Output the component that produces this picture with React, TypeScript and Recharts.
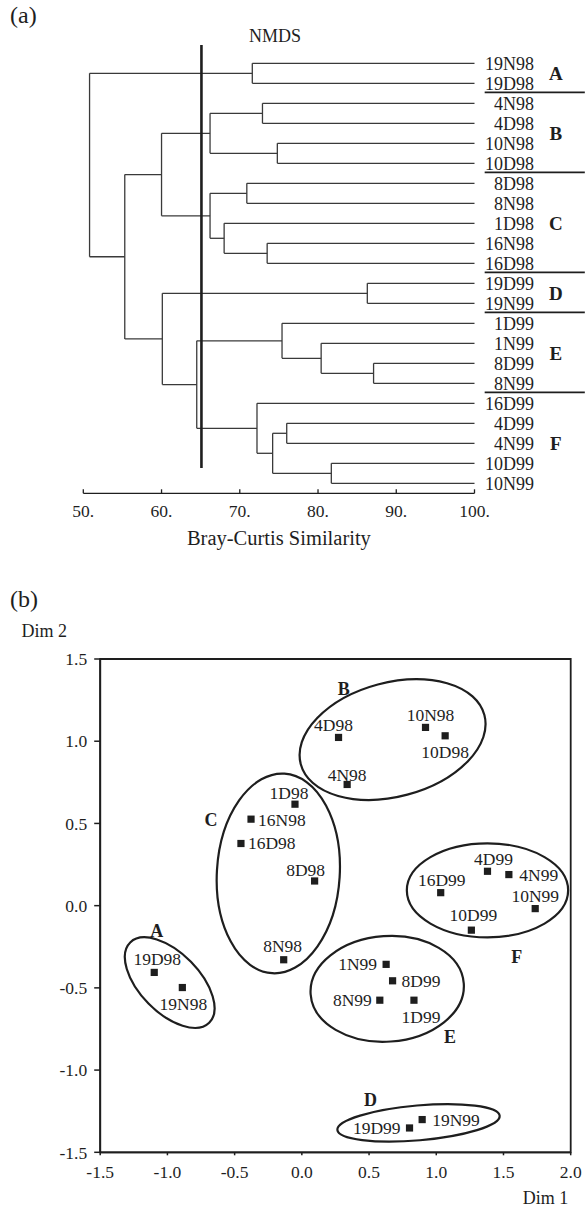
import React from 'react';
import {
  ScatterChart,
  Scatter,
  XAxis,
  YAxis,
  ReferenceLine,
  ReferenceArea,
  ReferenceDot,
} from 'recharts';

// ---------------- (a) dendrogram data ----------------
const leafNames = [
  '19N98', '19D98', '4N98', '4D98', '10N98', '10D98', '8D98', '8N98', '1D98', '16N98', '16D98',
  '19D99', '19N99', '1D99', '1N99', '8D99', '8N99', '16D99', '4D99', '4N99', '10D99', '10N99',
];
// merge i joins mergeLeft[i] and mergeRight[i] at similarity mergeSim[i]; "m<k>" refers to merge k
const mergeLeft = [
  '19N98', '4N98', '10N98', 'm1', '8D98', '16N98', '1D98', 'm4', 'm3', '19D99', '8D99',
  '1N99', '1D99', '4D99', '10D99', 'm13', '16D99', 'm12', 'm9', 'm8', 'm0',
];
const mergeRight = [
  '19D98', '4D98', '10D98', 'm2', '8N98', '16D98', 'm5', 'm6', 'm7', '19N99', '8N99',
  'm10', 'm11', '4N99', '10N99', 'm14', 'm15', 'm16', 'm17', 'm18', 'm19',
];
const mergeSim = [
  71.6, 72.9, 74.8, 66.2, 70.9, 73.5, 68.0, 66.2, 60.0, 86.3, 87.1,
  80.4, 75.4, 76.0, 81.7, 74.2, 72.2, 64.5, 60.1, 55.3, 50.8,
];
const simTicks = [50, 60, 70, 80, 90, 100];
const nmdsCut = 65.1;
const clusterLetters = ['A', 'B', 'C', 'D', 'E', 'F'];
const clusterFirstLeaf = [0, 2, 6, 11, 13, 17];
const clusterLastLeaf = [1, 5, 10, 12, 16, 21];

// ---------------- (b) NMDS data ----------------
const siteNames = [
  '19D98', '19N98', '4D98', '4N98', '10N98', '10D98', '1D98', '16N98', '16D98', '8D98', '8N98',
  '16D99', '4D99', '4N99', '10N99', '10D99', '1N99', '8D99', '8N99', '1D99', '19D99', '19N99',
];
const dim1 = [
  -1.098, -0.889, 0.273, 0.337, 0.92, 1.066, -0.051, -0.378, -0.453, 0.095, -0.135,
  1.033, 1.381, 1.54, 1.736, 1.261, 0.627, 0.675, 0.58, 0.834, 0.801, 0.895,
];
const dim2 = [
  -0.406, -0.498, 1.023, 0.737, 1.084, 1.033, 0.617, 0.526, 0.378, 0.15, -0.329,
  0.079, 0.209, 0.189, -0.018, -0.149, -0.357, -0.457, -0.575, -0.575, -1.352, -1.301,
];
const dimTicksX = [-1.5, -1.0, -0.5, 0.0, 0.5, 1.0, 1.5, 2.0];
const dimTicksY = [1.5, 1.0, 0.5, 0.0, -0.5, -1.0, -1.5];

// group ellipses (centre and semi-axes in data units, rotation in degrees)
const ellipseGroup = ['A', 'B', 'C', 'D', 'E', 'F'];
const ellipseCx = [-0.983, 0.675, -0.175, 0.868, 0.635, 1.381];
const ellipseCy = [-0.468, 1.01, 0.196, -1.321, -0.506, 0.093];
const ellipseRx = [0.419, 0.707, 0.457, 0.606, 0.571, 0.6];
const ellipseRy = [0.181, 0.347, 0.608, 0.106, 0.321, 0.286];
const ellipseAngle = [45.5, -15, 3.5, -5, -4, 0];
const groupLabelX = [-1.08, 0.312, -0.675, 0.51, 1.102, 1.598];
const groupLabelY = [-0.153, 1.318, 0.521, -1.178, -0.797, -0.311];

// label placement for the site labels: [side, dx, dy]
const labelPlacement: Record<string, [string, number, number]> = {
  '4D98': ['top', -5, 0],
  '10N98': ['top', 5, 0],
  '10D98': ['bottom', 0, 0],
  '4N98': ['top', 0, 3],
  '1D98': ['top', -6, 1],
  '16N98': ['right', -2, 1],
  '16D98': ['right', -2, 0],
  '8D98': ['top', -9, 1],
  '4D99': ['top', 6, 0],
  '4N99': ['right', 1.5, 0],
  '16D99': ['top', 1, -1],
  '10N99': ['top', 0, -0.6],
  '10D99': ['top', 2, -2.7],
  '8N98': ['top', -1, -1.6],
  '19D98': ['top', 3, -1],
  '19N98': ['bottom', 1, 0],
  '1N99': ['left', 0, 0],
  '8D99': ['right', 0, 0],
  '8N99': ['left', 1, 0],
  '1D99': ['bottom', 7, 1],
  '19N99': ['right', 1, 0],
  '19D99': ['left', 0, 0],
};

const FONT = '"Liberation Serif", "Times New Roman", Times, serif';
const INK = '#1e1e1e';
const TREE = '#3a3a3a';

// ---------- derived tables ----------
type Pt = { x: number; y: number };
const nodePos: Record<string, Pt> = {};
leafNames.forEach((n, i) => {
  nodePos[n] = { x: 100, y: i };
});
const treeSegments: [Pt, Pt][] = [];
mergeSim.forEach((s, i) => {
  const a = nodePos[mergeLeft[i]];
  const b = nodePos[mergeRight[i]];
  treeSegments.push([{ x: s, y: a.y }, { x: s, y: b.y }]);
  treeSegments.push([{ x: s, y: a.y }, { x: a.x, y: a.y }]);
  treeSegments.push([{ x: s, y: b.y }, { x: b.x, y: b.y }]);
  nodePos['m' + i] = { x: s, y: (a.y + b.y) / 2 };
});
const leafData = leafNames.map((n, i) => ({ x: 100, y: i, name: n }));
const separatorY = clusterLastLeaf.slice(0, -1).map((l) => l + 0.45);
const letterData = clusterLetters.map((c, i) => ({
  name: c,
  y: (clusterFirstLeaf[i] + clusterLastLeaf[i]) / 2,
}));

const siteData = siteNames.map((n, i) => ({ x: dim1[i], y: dim2[i], name: n }));
const groupData = ellipseGroup.map((g, i) => ({ x: groupLabelX[i], y: groupLabelY[i], name: g }));

// ---------- shapes ----------
const LeafLabel = (props: any) => {
  const { cx, cy, payload } = props;
  return (
    <text x={cx + 59.5} y={cy} dy="0.35em" textAnchor="end" fontFamily={FONT} fontSize={18} fill={INK}>
      {payload.name}
    </text>
  );
};

const SitePoint = (props: any) => {
  const { cx, cy, payload } = props;
  const [side, dx, dy] = labelPlacement[payload.name] ?? ['top', 0, 0];
  let tx = cx + dx;
  let ty = cy + dy;
  let anchor: 'middle' | 'start' | 'end' = 'middle';
  if (side === 'top') ty += -6;
  else if (side === 'bottom') ty += 22;
  else if (side === 'right') {
    tx += 9;
    ty += 6;
    anchor = 'start';
  } else {
    tx -= 9;
    ty += 6;
    anchor = 'end';
  }
  return (
    <g>
      <rect x={cx - 3.6} y={cy - 3.6} width={7.2} height={7.2} fill={INK} />
      <text x={tx} y={ty} textAnchor={anchor} fontFamily={FONT} fontSize={17.5} fill={INK}>
        {payload.name}
      </text>
    </g>
  );
};

const GroupLetter = (props: any) => {
  const { cx, cy, payload } = props;
  return (
    <text x={cx} y={cy} dy="0.35em" textAnchor="middle" fontFamily={FONT} fontWeight="bold" fontSize={18} fill={INK}>
      {payload.name}
    </text>
  );
};

const makeEllipse = (angle: number) => (props: any) => {
  const { x, y, width, height } = props;
  const cx = x + width / 2;
  const cy = y + height / 2;
  return (
    <ellipse
      cx={cx}
      cy={cy}
      rx={Math.abs(width) / 2}
      ry={Math.abs(height) / 2}
      transform={`rotate(${angle} ${cx} ${cy})`}
      fill="none"
      stroke={INK}
      strokeWidth={2.2}
    />
  );
};

const makeLetter = (label: string) => (p: any) => (
  <text x={p.cx} y={p.cy} dy="0.35em" textAnchor="middle" fontFamily={FONT} fontWeight="bold" fontSize={19} fill={INK}>
    {label}
  </text>
);

const tickStyle = { fill: INK, fontSize: 17.5, fontFamily: FONT };

export default function App() {
  return (
    <div style={{ position: 'absolute', left: 0, top: 0, width: 588, height: 1206, background: '#fff' }}>
      {/* (a) dendrogram */}
      <div style={{ position: 'absolute', left: 0, top: 0 }}>
        <ScatterChart width={588} height={560} margin={{ top: 53.3, right: 113.5, bottom: 14.7, left: 83.3 }}>
          <XAxis
            type="number"
            dataKey="x"
            domain={[50, 100]}
            ticks={simTicks}
            tickFormatter={(v: number) => `${v}.`}
            height={52}
            tickSize={-4}
            tickMargin={15}
            axisLine={{ stroke: INK, strokeWidth: 1.3 }}
            tickLine={{ stroke: INK, strokeWidth: 1.3 }}
            tick={tickStyle}
            label={{
              value: 'Bray-Curtis Similarity',
              position: 'insideBottom',
              offset: 0,
              fill: INK,
              fontSize: 20.5,
              fontFamily: FONT,
            }}
          />
          <YAxis type="number" dataKey="y" domain={[-0.5, 21.5]} reversed hide width={0} />
          {treeSegments.map((seg, i) => (
            <ReferenceLine key={'t' + i} segment={seg} stroke={TREE} strokeWidth={1.3} ifOverflow="visible" />
          ))}
          <ReferenceLine
            segment={[
              { x: nmdsCut, y: -0.92 },
              { x: nmdsCut, y: 20.24 },
            ]}
            stroke={INK}
            strokeWidth={2.6}
            ifOverflow="visible"
          />
          {separatorY.map((y, i) => (
            <ReferenceLine
              key={'s' + i}
              segment={[
                { x: 101.3, y },
                { x: 114.1, y },
              ]}
              stroke={INK}
              strokeWidth={1.8}
              ifOverflow="visible"
            />
          ))}
          {letterData.map((d) => (
            <ReferenceDot key={d.name} x={110.4} y={d.y} r={0} ifOverflow="visible" shape={makeLetter(d.name)} />
          ))}
          <Scatter data={leafData} shape={LeafLabel} isAnimationActive={false} />
        </ScatterChart>
      </div>

      {/* (b) NMDS */}
      <div style={{ position: 'absolute', left: 0, top: 560 }}>
        <ScatterChart width={588} height={646} margin={{ top: 99, right: 17.3, bottom: 0, left: 40.2 }}>
          <XAxis
            type="number"
            dataKey="x"
            domain={[-1.5, 2]}
            ticks={dimTicksX}
            tickFormatter={(v: number) => v.toFixed(1)}
            height={53.7}
            tickSize={3}
            tickMargin={10}
            axisLine={{ stroke: INK, strokeWidth: 1.8 }}
            tickLine={{ stroke: INK, strokeWidth: 1.5 }}
            tick={tickStyle}
            label={{ value: 'Dim 1', position: 'insideBottomRight', offset: 2.5, fill: INK, fontSize: 18, fontFamily: FONT }}
          />
          <YAxis
            type="number"
            dataKey="y"
            domain={[-1.5, 1.5]}
            ticks={dimTicksY}
            tickFormatter={(v: number) => v.toFixed(1)}
            width={60}
            tickSize={6}
            tickMargin={7}
            axisLine={{ stroke: INK, strokeWidth: 1.8 }}
            tickLine={{ stroke: INK, strokeWidth: 1.5 }}
            tick={tickStyle}
          />
          <ReferenceArea x1={-1.5} x2={2} y1={-1.5} y2={1.5} fill="none" fillOpacity={0} stroke={INK} strokeWidth={1.8} ifOverflow="visible" />
          {ellipseGroup.map((g, i) => (
            <ReferenceArea
              key={'e' + g}
              x1={ellipseCx[i] - ellipseRx[i]}
              x2={ellipseCx[i] + ellipseRx[i]}
              y1={ellipseCy[i] - ellipseRy[i]}
              y2={ellipseCy[i] + ellipseRy[i]}
              ifOverflow="visible"
              shape={makeEllipse(ellipseAngle[i])}
            />
          ))}
          <Scatter data={siteData} shape={SitePoint} isAnimationActive={false} />
          <Scatter data={groupData} shape={GroupLetter} isAnimationActive={false} />
        </ScatterChart>
      </div>

      {/* panel captions */}
      <svg width={588} height={1206} style={{ position: 'absolute', left: 0, top: 0, pointerEvents: 'none' }}>
        <text x={10} y={23} fontFamily={FONT} fontSize={24} fill={INK}>(a)</text>
        <text x={275} y={41.7} textAnchor="middle" fontFamily={FONT} fontSize={18} fill={INK}>NMDS</text>
        <text x={10} y={607} fontFamily={FONT} fontSize={24} fill={INK}>(b)</text>
        <text x={21.5} y={637.3} fontFamily={FONT} fontSize={18} fill={INK}>Dim 2</text>
      </svg>
    </div>
  );
}
